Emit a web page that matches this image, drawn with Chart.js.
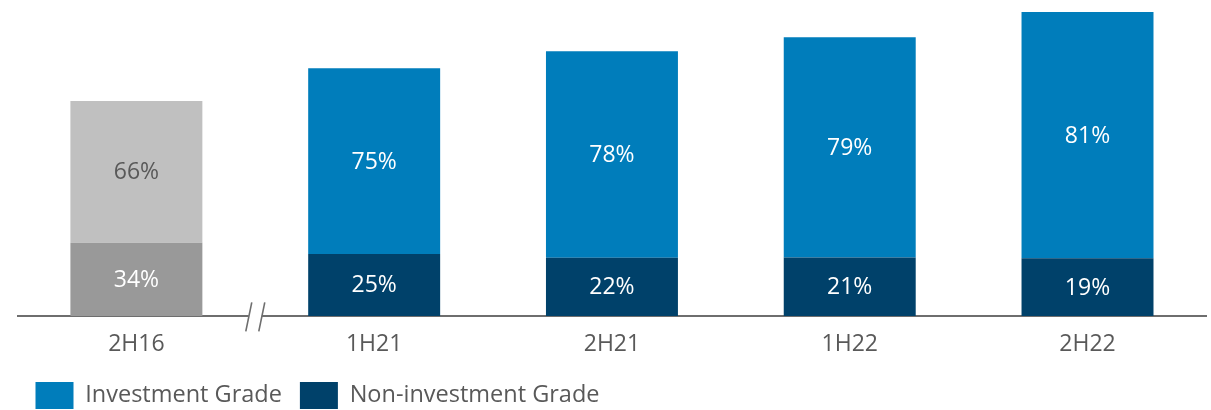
<!DOCTYPE html>
<html>
<head>
<meta charset="utf-8">
<script src="https://cdn.jsdelivr.net/npm/chart.js@4.4.1/dist/chart.umd.min.js"></script>
<style>
  html, body { margin: 0; padding: 0; background: #ffffff; }
  #wrap { width: 1211px; height: 410px; position: relative; }
</style>
</head>
<body>
<div id="wrap"><canvas id="chart"></canvas></div>
<script>
// Reporting periods
const periods = ['2H16', '1H21', '2H21', '1H22', '2H22'];
// Total portfolio size per period, indexed to 2H22 = 100
const totals = [70.7, 81.5, 87.1, 91.7, 100];
// Share of each grade in the total (%)
const investmentShare = [66, 75, 78, 79, 81];
const nonInvestmentShare = [34, 25, 22, 21, 19];
const seriesNames = ['Investment Grade', 'Non-investment Grade'];

// Segment heights derived from totals and shares
const investmentValues = totals.map((t, i) => t * investmentShare[i] / 100);
const nonInvestmentValues = totals.map((t, i) => t * nonInvestmentShare[i] / 100);

const FONT = '"Open Sans", "Noto Sans", sans-serif';
const BLUE = '#007dbb', NAVY = '#00416a';
const LIGHT_GREY = '#c0c0c0', DARK_GREY = '#999999';
const TEXT = '#595959';

// Labels with the share in the middle of each segment
const segmentLabels = {
  id: 'segmentLabels',
  afterDatasetsDraw(chart) {
    const ctx = chart.ctx;
    ctx.save();
    ctx.font = '23px ' + FONT;
    ctx.textAlign = 'center';
    ctx.textBaseline = 'middle';
    chart.data.datasets.forEach((ds, di) => {
      const meta = chart.getDatasetMeta(di);
      meta.data.forEach((bar, i) => {
        const mid = (bar.y + bar.base) / 2;
        const greyTop = (i === 0 && di === 1);
        ctx.fillStyle = greyTop ? TEXT : '#ffffff';
        ctx.fillText(ds.shares[i] + '%', bar.x, mid + 1);
      });
    });
    ctx.restore();
  }
};

// Axis break between the first period and the rest
const axisBreak = {
  id: 'axisBreak',
  afterDraw(chart) {
    const x = chart.scales.x;
    const ctx = chart.ctx;
    const cx = (x.getPixelForValue(0) + x.getPixelForValue(1)) / 2;
    const cy = chart.chartArea.bottom + 1;
    ctx.save();
    ctx.fillStyle = '#ffffff';
    ctx.fillRect(cx - 6.5, cy - 3, 13, 6);
    ctx.strokeStyle = '#6e6e6e';
    ctx.lineWidth = 1.6;
    [-6.5, 6.5].forEach(off => {
      ctx.beginPath();
      ctx.moveTo(cx + off - 3, cy + 14.5);
      ctx.lineTo(cx + off + 3, cy - 14.5);
      ctx.stroke();
    });
    ctx.restore();
  }
};

new Chart(document.getElementById('chart'), {
  type: 'bar',
  data: {
    labels: periods,
    datasets: [
      {
        label: seriesNames[1],
        data: nonInvestmentValues,
        shares: nonInvestmentShare,
        backgroundColor: c => c.dataIndex === 0 ? DARK_GREY : NAVY,
        legendColor: NAVY,
        borderWidth: 0
      },
      {
        label: seriesNames[0],
        data: investmentValues,
        shares: investmentShare,
        backgroundColor: c => c.dataIndex === 0 ? LIGHT_GREY : BLUE,
        legendColor: BLUE,
        borderWidth: 0
      }
    ]
  },
  options: {
    responsive: true,
    maintainAspectRatio: false,
    animation: false,
    categoryPercentage: 1,
    barPercentage: 0.555,
    layout: { padding: { left: 17.5, right: 4.6, top: 12, bottom: -9 } },
    scales: {
      x: {
        stacked: true,
        grid: { display: false },
        border: { display: true, color: '#6e6e6e', width: 2 },
        ticks: { color: TEXT, font: { family: FONT, size: 23 }, padding: 6.5 },
        afterFit: s => { s.height -= 0.5; }
      },
      y: {
        stacked: true,
        display: false,
        min: 0,
        max: 100
      }
    },
    plugins: {
      legend: {
        position: 'bottom',
        align: 'start',
        labels: {
          color: TEXT,
          font: { family: FONT, size: 23.5 },
          boxWidth: 38,
          boxHeight: 27,
          padding: 18,
          generateLabels: chart => chart.data.datasets.map((ds, i) => ({
            text: ds.label,
            fillStyle: ds.legendColor,
            strokeStyle: ds.legendColor,
            lineWidth: 0,
            fontColor: TEXT,
            hidden: false,
            datasetIndex: i
          })).reverse()
        }
      },
      tooltip: { enabled: false }
    }
  },
  plugins: [segmentLabels, axisBreak]
});
</script>
</body>
</html>
